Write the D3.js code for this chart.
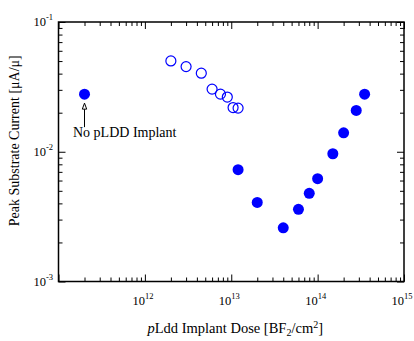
<!DOCTYPE html>
<html>
<head>
<meta charset="utf-8">
<script src="https://cdn.jsdelivr.net/npm/d3@7"></script>
<style>
  html, body { margin: 0; padding: 0; background: #fff; }
  svg { display: block; font-family: "Liberation Serif", "Times New Roman", serif; }
</style>
</head>
<body>
<svg id="chart" width="414" height="341"></svg>
<script>
// Peak substrate current vs. pLDD implant dose (BF2)
const openDose    = [2e12, 3e12, 4.5e12, 6e12, 7.5e12, 9e12, 1.05e13, 1.2e13];
const openCurrent = [0.0501, 0.0453, 0.0403, 0.0304, 0.0278, 0.0264, 0.0219, 0.0217];

const filledDose    = [1.2e13, 2e13, 4e13, 6e13, 8e13, 1e14, 1.5e14, 2e14, 2.8e14, 3.5e14];
const filledCurrent = [0.00728, 0.00407, 0.00259, 0.0036, 0.00478, 0.0062, 0.00965, 0.014, 0.0208, 0.0278];

// Reference point without any pLDD implant
const noImplantDose    = [2e11];
const noImplantCurrent = [0.0278];

const xTickExps = [12, 13, 14, 15];
const yTickExps = [-3, -2, -1];

const xDomain = [1e11, 1e15];
const yDomain = [1e-3, 1e-1];

const plotLeft = 58.5, plotRight = 404, plotTop = 22, plotBottom = 281.5;
const blue = "#0000ff";

const svg = d3.select("#chart");

const x = d3.scaleLog().domain(xDomain).range([plotLeft, plotRight]);
const y = d3.scaleLog().domain(yDomain).range([plotBottom, plotTop]);

const isMajor = v => Math.abs(Math.log10(v) - Math.round(Math.log10(v))) < 1e-9;

const xTicks = x.ticks();
const yTicks = y.ticks();

// Inward ticks on all four sides; majors are longer
function drawAxis(g, axis) {
  g.call(axis)
    .call(s => s.select(".domain").remove())
    .call(s => s.selectAll("text").remove())
    .call(s => s.selectAll("line").attr("stroke", "#000").attr("stroke-width", 1));
}

function tickLen(v) { return isMajor(v) ? 7 : 4; }

svg.append("g").attr("transform", `translate(0,${plotBottom})`)
  .call(g => drawAxis(g, d3.axisBottom(x).tickValues(xTicks).tickSize(0)))
  .selectAll(".tick line").attr("y2", d => -tickLen(d));
svg.append("g").attr("transform", `translate(0,${plotTop})`)
  .call(g => drawAxis(g, d3.axisTop(x).tickValues(xTicks).tickSize(0)))
  .selectAll(".tick line").attr("y2", d => tickLen(d));
svg.append("g").attr("transform", `translate(${plotLeft},0)`)
  .call(g => drawAxis(g, d3.axisLeft(y).tickValues(yTicks).tickSize(0)))
  .selectAll(".tick line").attr("x2", d => tickLen(d));
svg.append("g").attr("transform", `translate(${plotRight},0)`)
  .call(g => drawAxis(g, d3.axisRight(y).tickValues(yTicks).tickSize(0)))
  .selectAll(".tick line").attr("x2", d => -tickLen(d));

// Plot frame
svg.append("rect")
  .attr("x", plotLeft).attr("y", plotTop)
  .attr("width", plotRight - plotLeft).attr("height", plotBottom - plotTop)
  .attr("fill", "none").attr("stroke", "#000").attr("stroke-width", 1.5);

// Power-of-ten tick labels
const xLab = svg.append("g").selectAll("text").data(xTickExps).join("text")
  .attr("x", d => x(Math.pow(10, d)) - 2)
  .attr("y", plotBottom + 23)
  .attr("text-anchor", "middle")
  .attr("font-size", 12.5);
xLab.append("tspan").text("10");
xLab.append("tspan").attr("dy", -6).attr("font-size", 8.5).text(d => d);

const yLab = svg.append("g").selectAll("text").data(yTickExps).join("text")
  .attr("x", 53)
  .attr("y", d => y(Math.pow(10, d)) + 4)
  .attr("text-anchor", "end")
  .attr("font-size", 12.5);
yLab.append("tspan").text("10");
yLab.append("tspan").attr("dy", -6).attr("font-size", 8.5).text(d => "-" + Math.abs(d));

// Axis titles
const xTitle = svg.append("text")
  .attr("x", (plotLeft + plotRight) / 2 + 4).attr("y", 333)
  .attr("text-anchor", "middle").attr("font-size", 14.5);
xTitle.append("tspan").attr("font-style", "italic").text("p");
xTitle.append("tspan").text("Ldd Implant Dose [BF");
xTitle.append("tspan").attr("dy", 3).attr("font-size", 10).text("2");
xTitle.append("tspan").attr("dy", -3).text("/cm");
xTitle.append("tspan").attr("dy", -5).attr("font-size", 10).text("2");
xTitle.append("tspan").attr("dy", 5).text("]");

svg.append("text")
  .attr("transform", `translate(19,${(plotTop + plotBottom) / 2 - 11}) rotate(-90)`)
  .attr("text-anchor", "middle").attr("font-size", 14)
  .text("Peak Substrate Current [\u03BCA/\u03BC]");

// Data markers
svg.append("g").selectAll("circle").data(d3.zip(openDose, openCurrent)).join("circle")
  .attr("cx", d => x(d[0])).attr("cy", d => y(d[1])).attr("r", 5)
  .attr("fill", "none").attr("stroke", blue).attr("stroke-width", 1.2);

svg.append("g").selectAll("circle")
  .data(d3.zip(filledDose.concat(noImplantDose), filledCurrent.concat(noImplantCurrent))).join("circle")
  .attr("cx", d => x(d[0])).attr("cy", d => y(d[1])).attr("r", 5.5)
  .attr("fill", blue);

// Annotation for the no-implant point
const ax = x(noImplantDose[0]);
const ay = y(noImplantCurrent[0]);
svg.append("line")
  .attr("x1", ax).attr("x2", ax)
  .attr("y1", ay + 14).attr("y2", ay + 33)
  .attr("stroke", "#000").attr("stroke-width", 1);
svg.append("path")
  .attr("d", `M${ax},${ay + 9} L${ax - 2.2},${ay + 15} L${ax + 2.2},${ay + 15} Z`)
  .attr("fill", "#fff").attr("stroke", "#000").attr("stroke-width", 1);
svg.append("text")
  .attr("x", 73).attr("y", 137)
  .attr("font-size", 14)
  .text("No pLDD Implant");
</script>
</body>
</html>
